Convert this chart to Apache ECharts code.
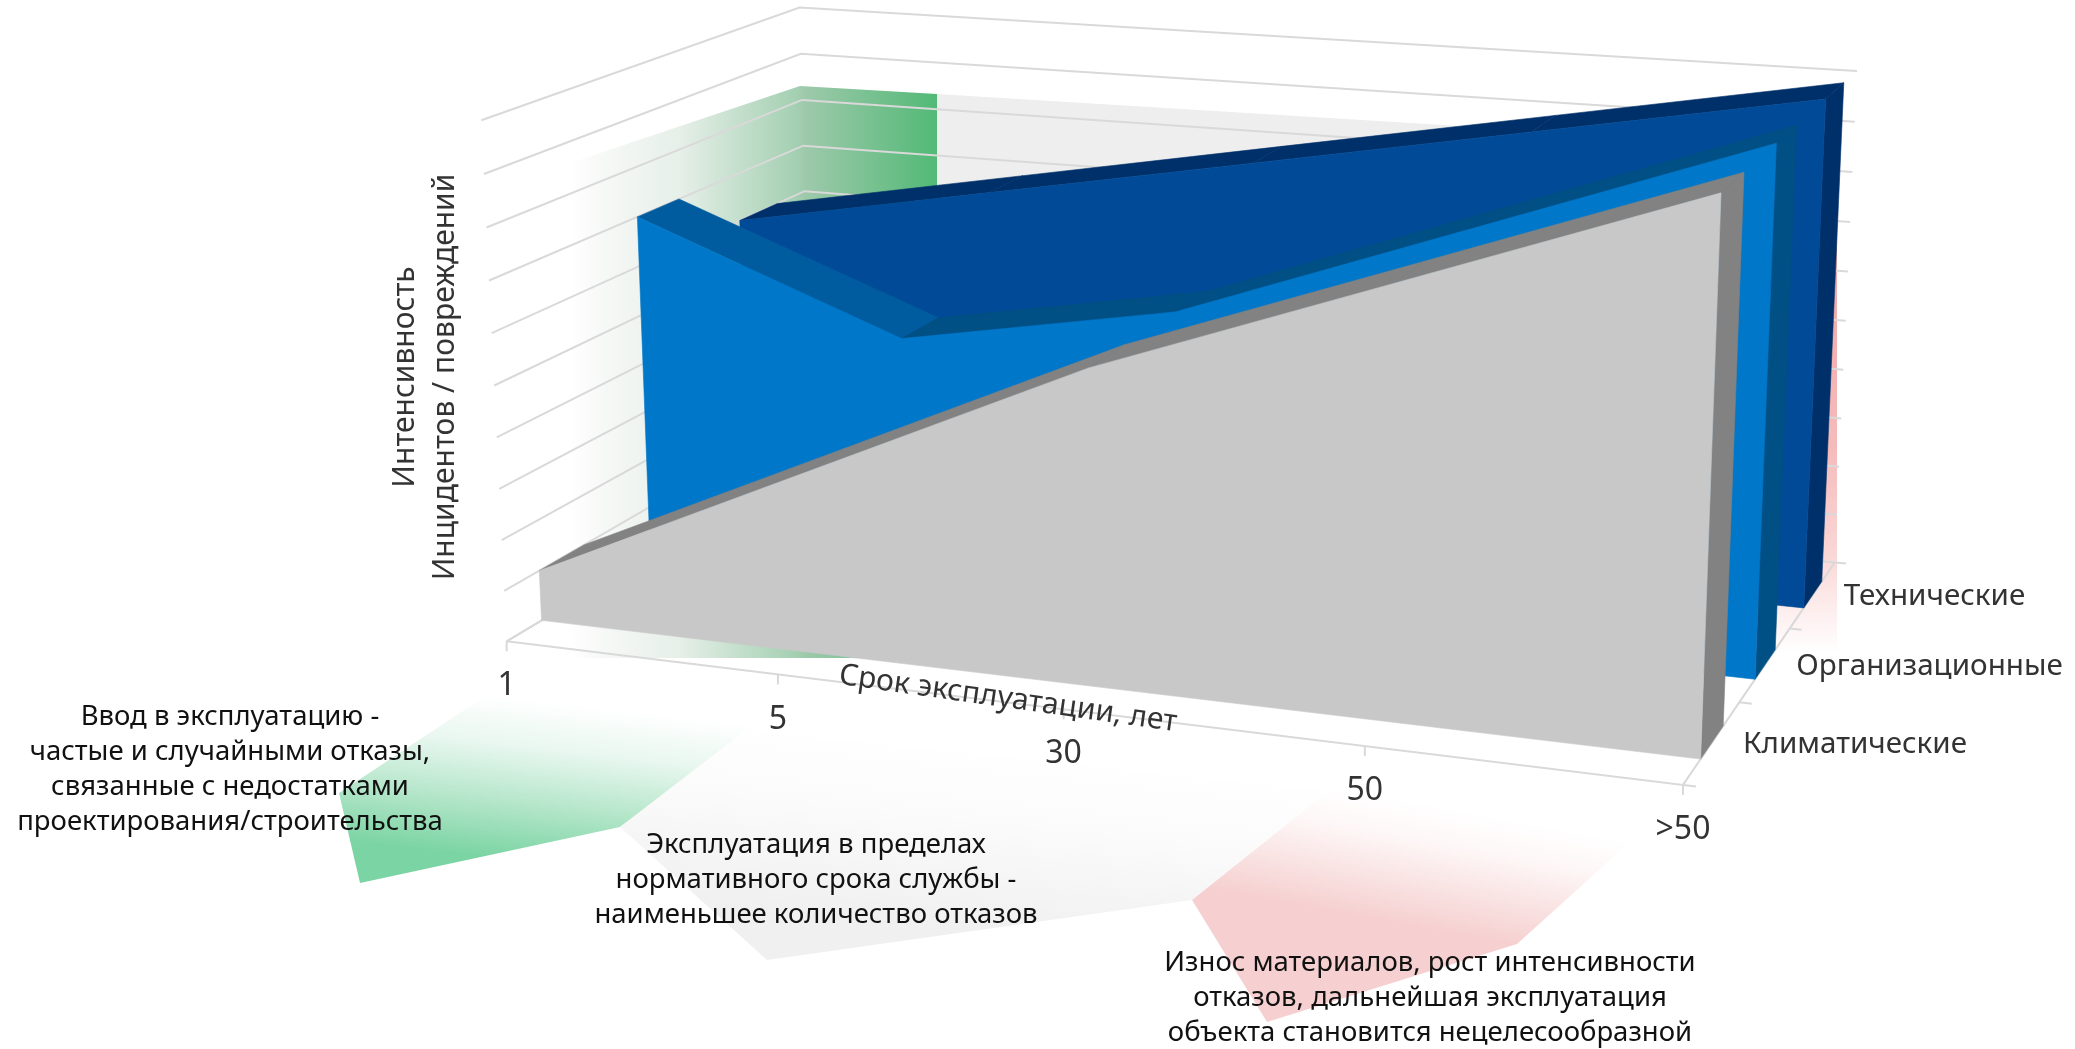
<!DOCTYPE html>
<html>
<head>
<meta charset="utf-8">
<title>Интенсивность отказов</title>
<script src="https://cdn.jsdelivr.net/npm/echarts@6/dist/echarts.min.js"></script>
<style>
html, body { margin: 0; background: #fff; }
#chart { width: 2075px; height: 1049px; }
</style>
</head>
<body>
<div id="chart"></div>
<script>
const ageLabels = ['1', '5', '30', '50', '>50'];
const causeLabels = ['Климатические', 'Организационные', 'Технические'];
const levels = [0, 1, 2, 3, 4, 5, 6, 7, 8, 9, 10];
const climatic = [1, 3.5, 6, 8, 10];
const organizational = [7, 5, 6, 8, 10];
const technical = [6, 7, 8, 9, 10];

const W = 2075, H = 1049, U_MAX = 4, V_MAX = 10;
const FONT = 'Noto Sans';
const GRID_COLOR = '#d9d9d9';

// опорные точки куба: [u, z, v] -> экран
const anchors = [
  [0, 0, 0, 507, 642], [1, 0, 0, 778, 675], [2, 0, 0, 1063, 710], [3, 0, 0, 1365, 747], [4, 0, 0, 1683, 784],
  [4, 1, 0, 1835, 563], [0, 1, 10, 800, 7], [0, 1, 8, 801, 100], [4, 1, 10, 1857, 71], [4, 1, 5, 1846, 321],
  [0, 0, 10, 481, 120], [0, 0, 5, 494, 386],
  [4, 1 / 3, 0, 1739, 702], [4, 2 / 3, 0, 1790, 628],
  [4, 0.1, 0, 1701, 758], [4, 0.9, 0, 1821.6, 581.7], [4, 0.9, 10, 1843.6, 83], [4, 0.1, 10, 1721.5, 193],
  [0, 0.4333, 7, 638, 217], [0, 0.5667, 7, 680, 199], [1, 0.4333, 5, 902, 338], [1, 0.5667, 5, 939, 317],
  [2, 0.4333, 6, 1175, 312], [2, 0.5667, 6, 1205, 292], [0, 0.1, 1, 539, 570], [0, 0.1, 0, 541.5, 620]
];

function solveCamera() {
  const A = [], b = [];
  anchors.forEach(function (a) {
    const u = a[0], z = a[1], v = a[2], x = a[3] / 1000, y = a[4] / 1000;
    A.push([u, z, v, 1, 0, 0, 0, 0, -x * u, -x * z, -x * v]); b.push(x);
    A.push([0, 0, 0, 0, u, z, v, 1, -y * u, -y * z, -y * v]); b.push(y);
  });
  const n = 11, M = [];
  for (let i = 0; i < n; i++) {
    M[i] = [];
    for (let j = 0; j < n; j++) {
      let s = 0;
      A.forEach(function (r) { s += r[i] * r[j]; });
      M[i][j] = s;
    }
    let s = 0;
    A.forEach(function (r, k) { s += r[i] * b[k]; });
    M[i][n] = s;
  }
  for (let c = 0; c < n; c++) {
    let p = c;
    for (let r = c + 1; r < n; r++) if (Math.abs(M[r][c]) > Math.abs(M[p][c])) p = r;
    const t = M[c]; M[c] = M[p]; M[p] = t;
    for (let r = 0; r < n; r++) {
      if (r === c) continue;
      const f = M[r][c] / M[c][c];
      for (let k = c; k <= n; k++) M[r][k] -= f * M[c][k];
    }
  }
  return M.map(function (r, i) { return r[n] / r[i]; });
}
const cam = solveCamera();

function project(u, z, v) {
  const d = cam[8] * u + cam[9] * z + cam[10] * v + 1;
  return [
    1000 * (cam[0] * u + cam[1] * z + cam[2] * v + cam[3]) / d,
    1000 * (cam[4] * u + cam[5] * z + cam[6] * v + cam[7]) / d
  ];
}

// пиксели сетки (шкалы echarts) -> координаты сцены
function scene(p) {
  return [p[0] / W * U_MAX, (H - p[1]) / H * V_MAX];
}

function line(points, color) {
  return { type: 'polyline', shape: { points: points }, style: { stroke: color || GRID_COLOR, lineWidth: 2, fill: null } };
}
function poly(points, color) {
  return { type: 'polygon', shape: { points: points }, style: { fill: color, stroke: color, lineWidth: 0.6 } };
}

// линии уровней на левой и задней стенках
function renderLevel(params, api) {
  const v = scene(api.coord([0, api.value(1)]))[1];
  return line([project(0, 0, v), project(0, 1, v), project(U_MAX, 1, v)]);
}

// пол, оси и засечки
function renderFloor(params, api) {
  const i = params.dataIndex;
  if (i === 0) {
    const tick = 0.04;
    const depthTicks = [0, 1 / 3, 2 / 3, 1].map(function (z) {
      return line([project(U_MAX, z, 0), project(U_MAX + tick, z, 0)]);
    });
    return {
      type: 'group',
      children: [
        line([project(0, 0, 0), project(U_MAX, 0, 0), project(U_MAX, 1, 0)]),
        line([project(0, 0, 0), project(0, 1, 0)])
      ].concat(depthTicks, xTick(0))
    };
  }
  return xTick(i);
  function xTick(k) {
    const u = scene(api.coord([k, 0]))[0];
    const p = project(u, 0, 0);
    return line([p, [p[0], p[1] + 10]]);
  }
}

function renderAgeLabel(params, api) {
  const u = scene(api.coord([api.value(0), 0]))[0];
  const p = project(u, 0, 0);
  return {
    type: 'text', x: p[0], y: p[1] + 45,
    style: { text: ageLabels[params.dataIndex], font: '32px "' + FONT + '"', fill: '#333', align: 'center', verticalAlign: 'middle' }
  };
}

function renderCauseLabel(params, api) {
  const z = (params.dataIndex + 0.5) / causeLabels.length;
  const p = project(U_MAX, z, 0);
  return {
    type: 'text', x: p[0] + 31, y: p[1] + 2,
    style: { text: causeLabels[params.dataIndex], font: '29.6px "' + FONT + '"', fill: '#333', align: 'left', verticalAlign: 'middle' }
  };
}

function slabSeries(name, values, slot, colors) {
  const zFront = (slot + 0.3) / causeLabels.length;
  const zBack = (slot + 0.7) / causeLabels.length;
  return {
    name: name,
    type: 'custom',
    z: 3 + (causeLabels.length - slot),
    clip: false,
    data: values.map(function (v, i) { return [i, v]; }),
    renderItem: function (params, api) {
      if (params.dataIndex !== 0) return null;
      const pts = values.map(function (v, i) { return scene(api.coord([i, v])); });
      const children = [];
      for (let i = 0; i < pts.length - 1; i++) {
        const a = pts[i], b = pts[i + 1];
        children.push(poly([
          project(a[0], zFront, a[1]), project(b[0], zFront, b[1]),
          project(b[0], zBack, b[1]), project(a[0], zBack, a[1])
        ], b[1] < a[1] ? colors.slope : colors.top));
      }
      const last = pts[pts.length - 1];
      children.push(poly([
        project(last[0], zFront, 0), project(last[0], zBack, 0),
        project(last[0], zBack, last[1]), project(last[0], zFront, last[1])
      ], colors.side));
      const front = pts.map(function (p) { return project(p[0], zFront, p[1]); });
      front.push(project(last[0], zFront, 0), project(pts[0][0], zFront, 0));
      children.push(poly(front, colors.front));
      return { type: 'group', children: children };
    }
  };
}

function band(points, from, to, stops) {
  return {
    type: 'polygon', z: 0, silent: true,
    shape: { points: points },
    style: {
      fill: {
        type: 'linear', global: true, x: from[0], y: from[1], x2: to[0], y2: to[1],
        colorStops: stops.map(function (s) { return { offset: s[0], color: s[1] }; })
      }
    }
  };
}

function label(text, x, y, size, color, rotation, lineHeight) {
  return {
    type: 'text', z: 10, silent: true, x: x, y: y, rotation: rotation || 0,
    style: { text: text, font: size + 'px "' + FONT + '"', fill: color, align: 'center', verticalAlign: 'middle', lineHeight: lineHeight || size * 1.3 }
  };
}

const chart = echarts.init(document.getElementById('chart'));
chart.setOption({
  animation: false,
  tooltip: { show: false },
  grid: { left: 0, top: 0, width: W, height: H },
  xAxis: { type: 'category', boundaryGap: false, data: ageLabels, show: false },
  yAxis: { type: 'value', min: 0, max: V_MAX, show: false },
  graphic: [
    // цветные подложки за диаграммой
    band([[570, 163], [800, 86], [937, 94], [937, 658], [570, 658]], [570, 0], [937, 0],
      [[0, '#ffffff'], [0.06, '#f9faf9'], [0.3, '#e6efe8'], [0.62, '#a3cfb1'], [0.64, '#9ec9ab'], [1, '#52b976']]),
    { type: 'polygon', z: 0, silent: true, shape: { points: [[937, 94], [1460, 126], [1460, 400], [937, 400]] }, style: { fill: '#eeeeee' } },
    band([[1700, 130], [1837, 130], [1837, 653], [1700, 653]], [0, 250], [0, 653],
      [[0, '#f2a6a6'], [0.5, '#f5bcbc'], [0.75, '#fad6d6'], [1, '#ffffff']]),
    band([[360, 883], [339, 793], [505, 683], [758, 727], [620, 827]], [470, 855], [488, 695],
      [[0, '#7bd4a3'], [0.35, '#b5e6ca'], [0.7, '#e8f7ef'], [1, '#ffffff']]),
    band([[620, 827], [767, 960], [1192, 900], [1330, 790], [746, 730]], [970, 930], [990, 745],
      [[0, '#f0f0f0'], [0.6, '#fbfbfb'], [1, '#ffffff']]),
    band([[1192, 900], [1267, 1022], [1517, 944], [1640, 833], [1330, 790]], [1410, 925], [1432, 805],
      [[0, '#f6d0d0'], [0.4, '#fae6e6'], [0.7, '#fef7f7'], [1, '#ffffff']]),
    // подписи
    label('Интенсивность', 405, 377, 30, '#333', Math.PI / 2),
    label('Инцидентов / повреждений', 445, 377, 30, '#333', Math.PI / 2),
    label('Срок эксплуатации, лет', 1008, 699, 30, '#333', -0.14),
    label('Ввод в эксплуатацию -\nчастые и случайными отказы,\nсвязанные с недостатками\nпроектирования/строительства', 230, 770, 27.5, '#111', 0, 35),
    label('Эксплуатация в пределах\nнормативного срока службы -\nнаименьшее количество отказов', 816, 880, 27.5, '#111', 0, 35),
    label('Износ материалов, рост интенсивности\nотказов, дальнейшая эксплуатация\nобъекта становится нецелесообразной', 1430, 998, 27.5, '#111', 0, 35)
  ],
  series: [
    { type: 'custom', z: 2, clip: false, data: levels.map(function (l) { return [0, l]; }), renderItem: renderLevel },
    { type: 'custom', z: 2, clip: false, data: ageLabels.map(function (l, i) { return [i, 0]; }), renderItem: renderFloor },
    slabSeries(causeLabels[2], technical, 2, { front: '#004a97', top: '#003069', slope: '#003069', side: '#003069' }),
    slabSeries(causeLabels[1], organizational, 1, { front: '#0077c8', top: '#004f85', slope: '#005c9e', side: '#004f85' }),
    slabSeries(causeLabels[0], climatic, 0, { front: '#c8c8c8', top: '#828282', slope: '#828282', side: '#828282' }),
    { type: 'custom', z: 9, clip: false, data: ageLabels.map(function (l, i) { return [i, 0]; }), renderItem: renderAgeLabel },
    { type: 'custom', z: 9, clip: false, data: causeLabels.map(function (l, i) { return [i, 0]; }), renderItem: renderCauseLabel }
  ]
});
</script>
</body>
</html>
